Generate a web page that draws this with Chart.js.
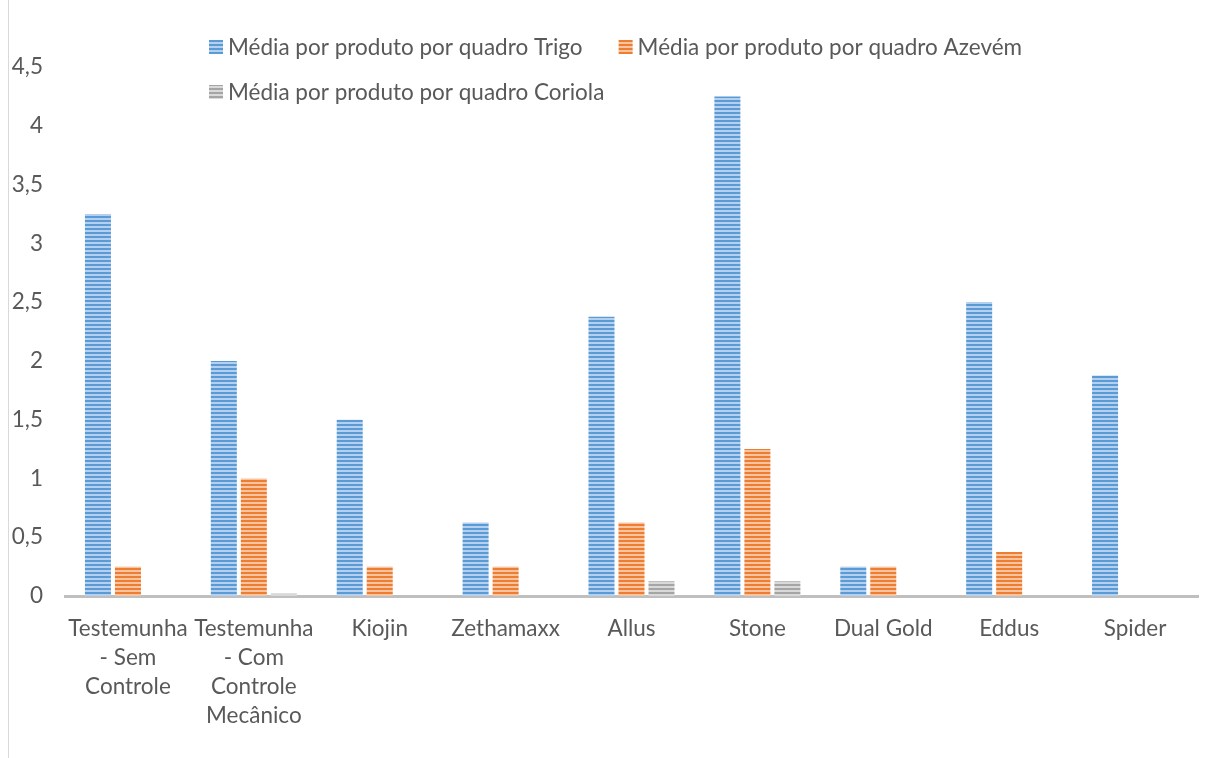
<!DOCTYPE html>
<html>
<head>
<meta charset="utf-8">
<script src="https://cdn.jsdelivr.net/npm/chart.js@4.4.1/dist/chart.umd.min.js"></script>
<style>
  html, body { margin: 0; padding: 0; background: #fff; }
  #wrap { width: 1211px; height: 758px; position: relative; }
</style>
</head>
<body>
<div id="wrap"><canvas id="chart"></canvas></div>
<script>
// data
const categories = [
  ['Testemunha', '- Sem', 'Controle'],
  ['Testemunha', '- Com', 'Controle', 'Mecânico'],
  'Kiojin', 'Zethamaxx', 'Allus', 'Stone', 'Dual Gold', 'Eddus', 'Spider'
];
const seriesNames = [
  'Média por produto por quadro Trigo',
  'Média por produto por quadro Azevém',
  'Média por produto por quadro Coriola'
];
const trigo   = [3.25, 2.0, 1.5, 0.625, 2.375, 4.25, 0.25, 2.5, 1.875];
const azevem  = [0.25, 1.0, 0.25, 0.25, 0.625, 1.25, 0.25, 0.375, 0];
const coriola = [0, 0.02, 0, 0, 0.125, 0.125, 0, 0, 0];
const yTicks  = [0, 0.5, 1, 1.5, 2, 2.5, 3, 3.5, 4, 4.5];

const FONT = 'Lato, Calibri, sans-serif';
const FSIZE = 22.5;
const TEXT = '#595959';

// horizontal stripe fill, like the Excel "narrow horizontal" pattern
function stripes(dark, light) {
  const c = document.createElement('canvas');
  c.width = 4; c.height = 4;
  const g = c.getContext('2d');
  g.fillStyle = light; g.fillRect(0, 0, 4, 4);
  g.fillStyle = dark;  g.fillRect(0, 0, 4, 2);
  return g.createPattern(c, 'repeat');
}
const fills = [
  stripes('#5B9BD5', '#B4D0EE'),
  stripes('#ED7D31', '#F7C4A2'),
  stripes('#A5A5A5', '#D9D9D9')
];

// legend drawn by hand so the second row starts under the first
const legendPlugin = {
  id: 'rowLegend',
  afterDraw(chart) {
    const ctx = chart.ctx;
    ctx.save();
    ctx.font = FSIZE + 'px ' + FONT;
    ctx.textBaseline = 'middle';
    const rows = [[0, 1], [2]];
    const rowY = [47, 92];
    rows.forEach((row, r) => {
      let x = 209;
      row.forEach(i => {
        const ds = chart.data.datasets[i];
        ctx.fillStyle = ds.backgroundColor;
        ctx.fillRect(x, rowY[r] - 7, 14, 14);
        ctx.fillStyle = TEXT;
        ctx.fillText(ds.label, x + 19, rowY[r] + 1);
        x += 19 + ctx.measureText(ds.label).width + 36;
      });
    });
    ctx.restore();
  }
};

const framePlugin = {
  id: 'frame',
  beforeDraw(chart) {
    const ctx = chart.ctx;
    ctx.save();
    ctx.strokeStyle = '#D9D9D9';
    ctx.lineWidth = 1;
    ctx.beginPath();
    ctx.moveTo(8.5, 0);
    ctx.lineTo(8.5, chart.height);
    ctx.stroke();
    ctx.restore();
  }
};

new Chart(document.getElementById('chart'), {
  type: 'bar',
  data: {
    labels: categories,
    datasets: [
      { label: seriesNames[0], data: trigo,   backgroundColor: fills[0] },
      { label: seriesNames[1], data: azevem,  backgroundColor: fills[1] },
      { label: seriesNames[2], data: coriola, backgroundColor: fills[2] }
    ]
  },
  options: {
    responsive: true,
    maintainAspectRatio: false,
    animation: false,
    layout: { padding: { top: 67, right: 13, left: 0, bottom: 0 } },
    categoryPercentage: 0.715,
    barPercentage: 0.867,
    plugins: {
      legend: { display: false },
      tooltip: { enabled: false }
    },
    scales: {
      x: {
        grid: { display: false },
        border: { display: true, color: '#BFBFBF', width: 3 },
        ticks: {
          color: TEXT,
          font: { family: FONT, size: FSIZE, lineHeight: 1.29 },
          padding: 10,
          maxRotation: 0,
          autoSkip: false
        },
        afterFit(scale) { scale.height = 162; }
      },
      y: {
        min: 0,
        max: 4.5,
        grid: { display: false },
        border: { display: false },
        afterBuildTicks(scale) { scale.ticks = yTicks.map(v => ({ value: v })); },
        ticks: {
          color: TEXT,
          font: { family: FONT, size: FSIZE },
          padding: 14,
          callback: v => String(v).replace('.', ',')
        },
        afterFit(scale) { scale.width = 65; }
      }
    }
  },
  plugins: [legendPlugin, framePlugin]
});
</script>
</body>
</html>
